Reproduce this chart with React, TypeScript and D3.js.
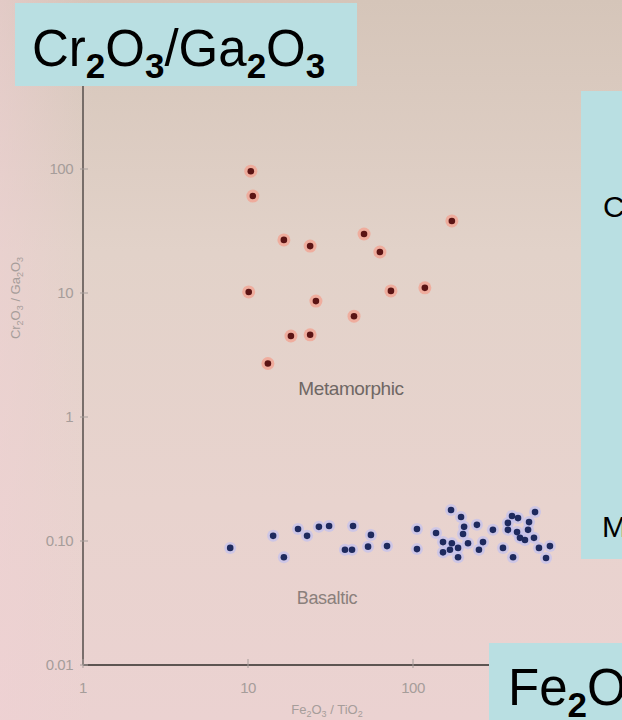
import React from "react";
import * as d3 from "d3";

const metamorphicX = [10.4, 10.7, 16.5, 23.8, 50.5, 63, 172, 10.1, 25.8, 73.5, 118, 43.9, 18.2, 23.8, 13.2];
const metamorphicY = [96, 60.5, 26.8, 23.9, 29.9, 21.4, 38.1, 10.2, 8.6, 10.4, 11, 6.5, 4.5, 4.6, 2.7];

const basalticX = [7.8, 14.2, 16.5, 20.1, 22.8, 26.9, 31.0, 43.3, 55.6, 38.7, 42.7, 53.4, 69.6, 105.7, 105.7, 137.9, 170, 195.5, 204, 201, 244, 152, 172, 152, 167.5, 187.5, 187.5, 215.5, 265.6, 251, 305, 398, 433, 549, 376, 505, 376, 427, 498, 445, 477, 541, 351, 580, 676, 404, 640];
const basalticY = [0.088, 0.110, 0.074, 0.125, 0.110, 0.130, 0.132, 0.132, 0.112, 0.085, 0.085, 0.090, 0.091, 0.125, 0.086, 0.116, 0.178, 0.156, 0.130, 0.114, 0.135, 0.098, 0.096, 0.081, 0.085, 0.088, 0.074, 0.096, 0.098, 0.085, 0.123, 0.159, 0.153, 0.171, 0.140, 0.142, 0.123, 0.118, 0.123, 0.106, 0.102, 0.106, 0.088, 0.088, 0.091, 0.074, 0.073];

const xTicks = [1, 10, 100];
const xTickLabels = ["1", "10", "100"];
const yTicks = [100, 10, 1, 0.1, 0.01];
const yTickLabels = ["100", "10", "1", "0.10", "0.01"];

const W = 622;
const H = 720;

export default function App() {
  const x = d3.scaleLog().domain([1, 1000]).range([83, 578]);
  const y = d3.scaleLog().domain([0.01, 1000]).range([665, 45]);
  const meta = metamorphicX.map((v, i) => [v, metamorphicY[i]]);
  const bas = basalticX.map((v, i) => [v, basalticY[i]]);
  const axisCol = "#5d5552";
  const tickCol = "#a69d9a";
  return (
    <svg width={W} height={H} style={{ position: "absolute", left: 0, top: 0, display: "block" }} fontFamily="Liberation Sans, Arial, sans-serif">
      <defs>
        <linearGradient id="bg" x1="0" y1="0" x2="0" y2="1">
          <stop offset="0" stopColor="#d5c5b9" />
          <stop offset="0.35" stopColor="#e2d2c9" />
          <stop offset="0.7" stopColor="#e8d3ce" />
          <stop offset="1" stopColor="#ebd2d1" />
        </linearGradient>
        <linearGradient id="bgl" x1="0" y1="0" x2="1" y2="0">
          <stop offset="0" stopColor="#f0d0d4" stopOpacity="0.5" />
          <stop offset="0.15" stopColor="#f0d0d4" stopOpacity="0" />
          <stop offset="1" stopColor="#f0d0d4" stopOpacity="0" />
        </linearGradient>
      </defs>
      <rect x={0} y={0} width={W} height={H} fill="url(#bg)" />
      <rect x={0} y={0} width={W} height={H} fill="url(#bgl)" />

      {/* axes */}
      <line x1={x(1)} x2={x(1)} y1={y(0.01)} y2={86} stroke={axisCol} strokeWidth={1.6} />
      <line x1={x(1)} x2={x(1000)} y1={y(0.01)} y2={y(0.01)} stroke={axisCol} strokeWidth={1.8} />
      {yTicks.map((t, i) => (
        <g key={"yt" + i}>
          <line x1={x(1) - 3} x2={x(1) + 5} y1={y(t)} y2={y(t)} stroke={tickCol} strokeWidth={1} />
          <text x={73} y={y(t) + 5} textAnchor="end" fontSize={15} fill={tickCol} letterSpacing={-0.5}>{yTickLabels[i]}</text>
        </g>
      ))}
      {xTicks.map((t, i) => (
        <g key={"xt" + i}>
          <line x1={x(t)} x2={x(t)} y1={y(0.01) - 6} y2={y(0.01) + 3} stroke={tickCol} strokeWidth={1} />
          <text x={x(t)} y={693} textAnchor="middle" fontSize={15} fill={tickCol} letterSpacing={-0.5}>{xTickLabels[i]}</text>
        </g>
      ))}
      <text transform={`translate(20,298) rotate(-90)`} textAnchor="middle" fontSize={13} fill={tickCol}>
        Cr<tspan fontSize={9} dy={3}>2</tspan><tspan dy={-3}>O</tspan><tspan fontSize={9} dy={3}>3</tspan><tspan dy={-3}> / Ga</tspan><tspan fontSize={9} dy={3}>2</tspan><tspan dy={-3}>O</tspan><tspan fontSize={9} dy={3}>3</tspan>
      </text>
      <text x={327} y={714} textAnchor="middle" fontSize={13} fill={tickCol}>
        Fe<tspan fontSize={9} dy={3}>2</tspan><tspan dy={-3}>O</tspan><tspan fontSize={9} dy={3}>3</tspan><tspan dy={-3}> / TiO</tspan><tspan fontSize={9} dy={3}>2</tspan>
      </text>

      {/* group labels */}
      <text x={351} y={395} textAnchor="middle" fontSize={19} fill="#6f6764" letterSpacing={-0.4}>Metamorphic</text>
      <text x={327} y={604} textAnchor="middle" fontSize={18} fill="#8a807c" letterSpacing={-0.3}>Basaltic</text>

      {/* points */}
      {meta.map((d, i) => (
        <g key={"m" + i}>
          <circle cx={x(d[0])} cy={y(d[1])} r={6.5} fill="#f3a08f" opacity={0.75} />
          <circle cx={x(d[0])} cy={y(d[1])} r={3.3} fill="#5b1414" />
        </g>
      ))}
      {bas.map((d, i) => (
        <circle key={"bh" + i} cx={x(d[0])} cy={y(d[1])} r={6} fill="#c2c0f0" opacity={0.7} />
      ))}
      {bas.map((d, i) => (
        <circle key={"b" + i} cx={x(d[0])} cy={y(d[1])} r={3.3} fill="#1e2a5e" />
      ))}

      {/* overlay boxes */}
      <rect x={15} y={3} width={342} height={83} fill="#b9dfe2" />
      <text x={32} y={66} fontSize={51} fill="#000">
        Cr<tspan fontSize={35} fontWeight="bold" dy={12}>2</tspan><tspan dy={-12}>O</tspan><tspan fontSize={35} fontWeight="bold" dy={12}>3</tspan><tspan dy={-12}>/Ga</tspan><tspan fontSize={35} fontWeight="bold" dy={12}>2</tspan><tspan dy={-12}>O</tspan><tspan fontSize={35} fontWeight="bold" dy={12}>3</tspan>
      </text>
      <rect x={581} y={91} width={41} height={468} fill="#b9dfe2" />
      <text x={603} y={217} fontSize={30} fill="#000">C</text>
      <text x={602} y={537} fontSize={30} fill="#000">M</text>
      <rect x={489} y={643} width={133} height={77} fill="#b9dfe2" />
      <text x={508} y={705} fontSize={51} fill="#000">
        Fe<tspan fontSize={35} fontWeight="bold" dy={12}>2</tspan><tspan dy={-12}>O</tspan>
      </text>
    </svg>
  );
}
